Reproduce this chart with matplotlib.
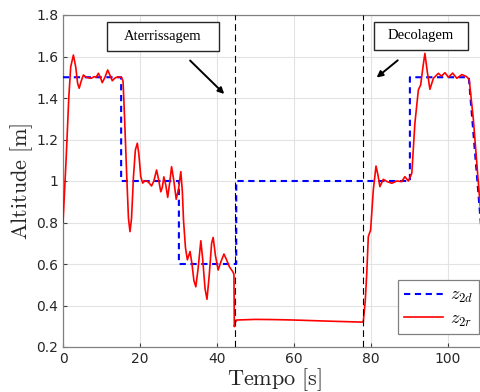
import numpy as np
import matplotlib
matplotlib.use('Agg')
import matplotlib.pyplot as plt
from matplotlib.patches import Rectangle

# reference altitude z2d
t_d = [0, 15.1, 15.1, 30.1, 30.1, 45.0, 45.0, 90.1, 90.1, 105.4, 108.6]
z_d = [1.5, 1.5, 1.0, 1.0, 0.6, 0.6, 1.0, 1.0, 1.5, 1.5, 0.78]

# measured altitude z2r
t_r = [0.0, 0.8, 1.5, 2.0, 2.7, 3.3, 3.8, 4.2, 4.7, 5.3, 6.0, 6.6, 7.3, 8.1, 8.6,
       9.2, 9.7, 10.2, 10.9, 11.6, 12.2, 12.8, 13.4, 13.9, 15.2, 15.6, 16.0, 16.5,
       17.0, 17.4, 17.8, 18.3, 18.8, 19.3, 19.7, 20.2, 20.7, 21.2, 21.8, 22.4, 23.0,
       23.6, 24.3, 24.8, 25.4, 25.8, 26.2, 26.7, 27.2, 27.7, 28.2, 28.8, 29.4, 30.0,
       30.6, 31.0, 31.3, 31.8, 32.3, 33.0, 33.5, 34.0, 34.5, 35.1, 35.8, 36.3, 36.9,
       37.4, 38.0, 38.6, 39.0, 39.6, 40.3, 41.0, 41.8, 42.5, 43.2, 44.1, 44.4, 44.5,
       44.8, 45.1, 50, 55, 60, 65, 70, 77.6, 78.0, 78.5, 78.9, 79.3, 79.9, 80.6, 81.3,
       81.8, 82.3, 83.2, 84.2, 85.4, 86.7, 88.0, 88.8, 89.7, 90.6, 91.4, 92.3, 92.9,
       93.5, 94.0, 94.6, 95.3, 96.2, 97.5, 98.3, 99.2, 100.1, 101.2, 102.3, 103.6,
       104.8, 105.5, 106.6, 108.1, 109.0]
z_r = [0.80, 1.10, 1.40, 1.55, 1.607, 1.55, 1.47, 1.447, 1.48, 1.511, 1.50, 1.497,
       1.495, 1.503, 1.50, 1.519, 1.50, 1.474, 1.50, 1.535, 1.51, 1.483, 1.495, 1.50,
       1.50, 1.48, 1.30, 1.05, 0.82, 0.756, 0.82, 1.02, 1.15, 1.182, 1.13, 1.02, 0.99,
       1.00, 1.00, 0.99, 0.976, 1.00, 1.053, 1.01, 0.948, 0.97, 1.02, 0.98, 0.921,
       0.99, 1.069, 1.00, 0.912, 0.96, 1.045, 0.95, 0.812, 0.68, 0.62, 0.66, 0.60,
       0.52, 0.49, 0.58, 0.712, 0.62, 0.48, 0.43, 0.55, 0.70, 0.728, 0.64, 0.571,
       0.61, 0.648, 0.62, 0.587, 0.563, 0.55, 0.298, 0.32, 0.33, 0.333, 0.332, 0.33,
       0.327, 0.324, 0.32, 0.322, 0.42, 0.555, 0.732, 0.764, 0.957, 1.072, 1.03,
       0.973, 1.008, 0.997, 0.989, 1.0, 0.997, 1.021, 1.0, 1.037, 1.278, 1.439,
       1.463, 1.55, 1.615, 1.53, 1.442, 1.495, 1.519, 1.505, 1.522, 1.50, 1.52,
       1.495, 1.513, 1.503, 1.49, 1.294, 0.94, 0.75]

t_land = 44.6
t_takeoff = 77.8

plt.rcParams['mathtext.fontset'] = 'cm'

fig = plt.figure(figsize=(4.8, 3.92), dpi=100)
# axes extends beyond the right edge (cropped like the reference)
ax = fig.add_axes([63 / 480, 45 / 392, 423.5 / 480, 332 / 392])

ax.plot(t_d, z_d, color='#0000ff', lw=1.5, ls=(0, (3, 2.2)), label=r'$z_{2d}$', zorder=3)
ax.plot(t_r, z_r, color='#ff0000', lw=1.2, label=r'$z_{2r}$', zorder=4)
ax.axvline(t_land, color='black', lw=0.8, ls=(0, (6, 3.5)), zorder=5)
ax.axvline(t_takeoff, color='black', lw=0.8, ls=(0, (6, 3.5)), zorder=5)

ax.set_xlim(0, 110)
ax.set_ylim(0.2, 1.8)
ax.set_xticks([0, 20, 40, 60, 80, 100])
ax.set_yticks([0.2, 0.4, 0.6, 0.8, 1.0, 1.2, 1.4, 1.6, 1.8])
ax.set_yticklabels(['0.2', '0.4', '0.6', '0.8', '1', '1.2', '1.4', '1.6', '1.8'])
ax.grid(True, color='#e3e3e3', lw=0.8)
ax.set_axisbelow(True)
ax.tick_params(direction='in', length=3, width=0.8, colors='#404040',
               labelcolor='#262626', labelsize=10)
for sp in ax.spines.values():
    sp.set_color('#808080')
    sp.set_linewidth(0.9)

ax.set_xlabel(r'$\mathrm{Tempo\ [s]}$', fontsize=16, color='#262626', labelpad=0)
ax.set_ylabel(r'$\mathrm{Altitude\ [m]}$', fontsize=16, color='#262626', labelpad=0.5)

# annotation boxes
ax.add_patch(Rectangle((11.4, 1.626), 29.1, 0.140, fc='white', ec='#262626', lw=1.0, zorder=6))
ax.add_patch(Rectangle((80.8, 1.630), 24.4, 0.136, fc='white', ec='#262626', lw=1.0, zorder=6))
ax.text(25.95, 1.697, 'Aterrissagem', family='Liberation Serif', fontsize=10.5,
        ha='center', va='center', zorder=7)
ax.text(93.0, 1.699, 'Decolagem', family='Liberation Serif', fontsize=10.5,
        ha='center', va='center', zorder=7)
ax.annotate('', xy=(42.4, 1.41), xytext=(32.5, 1.59),
            arrowprops=dict(arrowstyle='-|>', color='black', lw=1.4, mutation_scale=9))
ax.annotate('', xy=(80.9, 1.49), xytext=(87.5, 1.59),
            arrowprops=dict(arrowstyle='-|>', color='black', lw=1.4, mutation_scale=9))

leg = ax.legend(loc='lower right', bbox_to_anchor=(108.1, 0.263), bbox_transform=ax.transData,
                fontsize=13, handlelength=2.2, fancybox=False, framealpha=1,
                edgecolor='#808080', borderpad=0.3, labelspacing=0.25, handletextpad=0.4,
                borderaxespad=0)
leg.get_frame().set_linewidth(0.9)

fig.savefig('out.png', dpi=100)
